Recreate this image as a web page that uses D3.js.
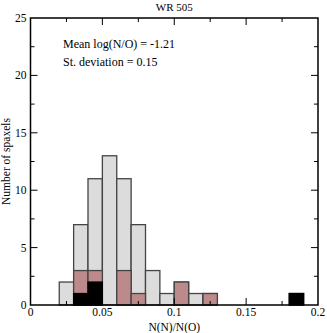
<!DOCTYPE html>
<html><head><meta charset="utf-8">
<script src="https://cdn.jsdelivr.net/npm/d3@7"></script>
<style>body{margin:0;background:#fff;} svg{display:block;}</style>
</head><body>
<script>
// bin lower edges (width 0.01)
const binStarts = [0.02,0.03,0.04,0.05,0.06,0.07,0.08,0.09,0.10,0.11,0.12,0.18];
const allCounts   = [2,7,11,13,11,7,3,1,2,1,1,1];
const brownStarts = [0.03,0.04,0.06,0.07,0.10,0.12];
const brownCounts = [3,3,3,1,2,1];
const blackStarts = [0.03,0.04,0.18];
const blackCounts = [1,2,1];
const xTicks = [0,0.05,0.1,0.15,0.2];
const xTickLabels = ["0","0.05","0.1","0.15","0.2"];
const yTicks = [0,5,10,15,20,25];
const binWidth = 0.01;

const W=327,H=333;
const m={l:30.5,r:9,t:18,b:28};
const svg=d3.select("body").append("svg").attr("width",W).attr("height",H)
  .attr("font-family","'Liberation Serif','Times New Roman','DejaVu Serif',serif");
const x=d3.scaleLinear().domain([0,0.2]).range([m.l,W-m.r]);
const y=d3.scaleLinear().domain([0,25]).range([H-m.b,m.t]);

function bars(starts,counts,fill,stroke){
  svg.append("g").selectAll("rect").data(starts.map((s,i)=>({s,c:counts[i]}))).join("rect")
    .attr("x",d=>x(d.s)).attr("width",d=>x(d.s+binWidth)-x(d.s))
    .attr("y",d=>y(d.c)).attr("height",d=>y(0)-y(d.c))
    .attr("fill",fill).attr("stroke",stroke).attr("stroke-width",1.3);
}
bars(binStarts,allCounts,"#dcdcdc","#444");
bars(brownStarts,brownCounts,"#bc8a8a","#444");
bars(blackStarts,blackCounts,"#000","#000");

// frame
svg.append("rect").attr("x",x(0)).attr("y",y(25)).attr("width",x(0.2)-x(0)).attr("height",y(0)-y(25))
  .attr("fill","none").attr("stroke","#000").attr("stroke-width",1.5);

// ticks
const g=svg.append("g").attr("stroke","#000").attr("stroke-width",1);
const xMinor=d3.range(0,0.2001,0.025);
xMinor.forEach(v=>{
  const major=Math.abs(v/0.05-Math.round(v/0.05))<1e-6;
  const L=major?7:4;
  if(v<=0||v>=0.2) return;
  g.append("line").attr("x1",x(v)).attr("x2",x(v)).attr("y1",y(0)).attr("y2",y(0)-L);
  g.append("line").attr("x1",x(v)).attr("x2",x(v)).attr("y1",y(25)).attr("y2",y(25)+L);
});
const yMinor=d3.range(0,25.01,2.5);
yMinor.forEach(v=>{
  const major=v%5===0;
  const L=major?7:4;
  if(v<=0||v>=25) return;
  g.append("line").attr("x1",x(0)).attr("x2",x(0)+L).attr("y1",y(v)).attr("y2",y(v));
  g.append("line").attr("x1",x(0.2)).attr("x2",x(0.2)-L).attr("y1",y(v)).attr("y2",y(v));
});

// tick labels
svg.append("g").selectAll("text").data(xTicks).join("text")
  .attr("x",d=>x(d)).attr("y",y(0)+11).attr("text-anchor","middle").attr("font-size",11.5)
  .text((d,i)=>xTickLabels[i]);
svg.append("g").selectAll("text").data(yTicks).join("text")
  .attr("x",x(0)-4).attr("y",d=>y(d)+4).attr("text-anchor","end").attr("font-size",11.5)
  .text(d=>d);

svg.append("text").attr("x",(x(0)+x(0.2))/2).attr("y",11).attr("text-anchor","middle").attr("font-size",11).text("WR 505");
svg.append("text").attr("x",(x(0)+x(0.2))/2).attr("y",331).attr("text-anchor","middle").attr("font-size",11.5).text("N(N)/N(O)");
svg.append("text").attr("transform",`translate(10,${(y(0)+y(25))/2}) rotate(-90)`).attr("text-anchor","middle").attr("font-size",11.5).text("Number of spaxels");
svg.append("text").attr("x",63).attr("y",48).attr("font-size",12).text("Mean log(N/O) = -1.21");
svg.append("text").attr("x",63).attr("y",66).attr("font-size",12).text("St. deviation = 0.15");
</script>
</body></html>
